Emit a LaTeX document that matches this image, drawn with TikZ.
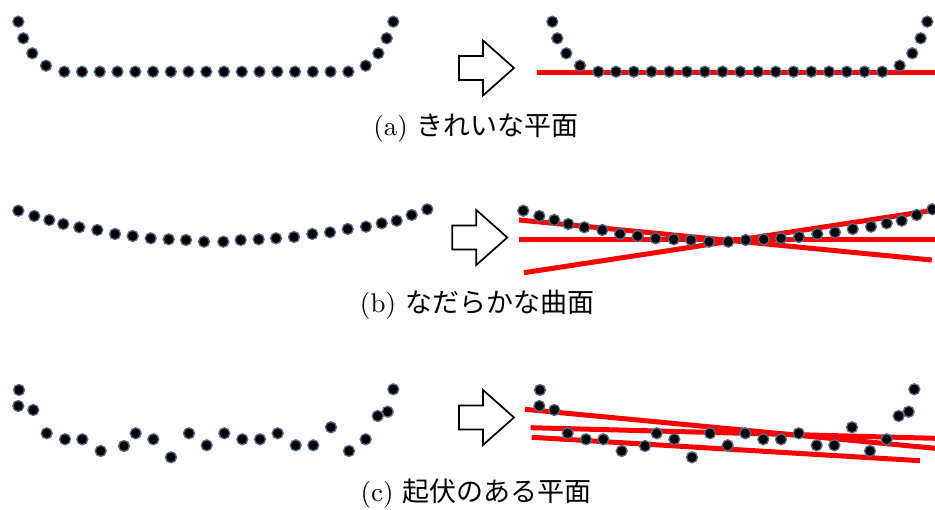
\documentclass[tikz,border=0pt]{standalone}
\usepackage{fontspec}
\newfontfamily\jpfont{Noto Sans CJK JP}
\definecolor{DotEdge}{rgb}{0.35,0.42,0.55}
\definecolor{FitRed}{rgb}{1,0,0}

% outline arrow: left end x, middle y
\newcommand{\hollowarrow}[2]{%
  \draw[hollow] (#1,#2-12) -- ++(24,0) -- ++(0,-15.5) -- (#1+55,#2)
    -- (#1+24,#2+27.5) -- ++(0,-15.5) -- (#1,#2+12) -- cycle;}

% sample points, one list per surface
\def\flatpts{18.3/21.7, 23.3/38.3, 32.3/53.3, 46/65.7,
  64.3/71.7, 82/71.7, 99.8/71.7, 117.5/71.7, 135.3/71.7, 153/71.7,
  170.8/71.7, 188.5/71.7, 206.3/71.7, 224/71.7, 241.8/71.7, 259.5/71.7,
  277.3/71.7, 295/71.7, 312.8/71.7, 330.5/71.7, 348.3/71.7,
  365.7/65.7, 378.3/53.3, 386.7/38.3, 393.3/21.7}
\def\smoothpts{18.3/210.7, 34.3/216, 49.3/220, 63.3/224, 79.3/227.3,
  97.3/230, 115/234, 132.7/236, 150.7/238.3, 168.7/239.3, 186/240,
  204/241.7, 223.3/241.7, 240.7/240, 258.7/239.3, 276/238.3, 294/237,
  312.3/234, 330/232.3, 347.7/229, 366/226.7, 381.7/223.3, 396.7/220.7,
  411.7/215, 427.3/209.3}
\def\roughpts{19/390, 18.3/406, 33.3/410, 46.7/433.3, 65/439.3,
  82.3/439.3, 100.7/451, 124/446, 135.7/433.3, 153.3/439.3, 171/457.3,
  189/433.3, 206.7/445.3, 224.3/433.3, 242.3/439.3, 260/439.3,
  277.7/433.3, 295.7/445.3, 313.3/445.3, 331/427.3, 349/451,
  365.7/439.3, 377.7/416, 387.7/411.7, 393.3/389.3}

\begin{document}
\begin{tikzpicture}[x=1pt,y=-1pt]
  \tikzstyle{caption}=[font=\normalsize, scale=2.7, transform shape]
  \tikzstyle{dot}=[circle, fill=black, draw=DotEdge, line width=1.3pt,
    inner sep=0pt, minimum size=11pt]
  \tikzstyle{fitline}=[draw=FitRed, line width=5pt]
  \tikzstyle{hollow}=[draw=black, line width=1.7pt, fill=white]
  \useasboundingbox (0,0) rectangle (935,510);

  % (a)
  \foreach \x/\y in \flatpts {\node[dot] at (\x,\y) {};}
  \hollowarrow{459}{68}
  \draw[fitline] (536.7,72.3) -- (935,72.3);
  \begin{scope}[xshift=534]
    \foreach \x/\y in \flatpts {\node[dot] at (\x,\y) {};}
  \end{scope}
  \node[caption] (capa) at (476,128) {(a) {\jpfont きれいな平面}};

  % (b)
  \foreach \x/\y in \smoothpts {\node[dot] at (\x,\y) {};}
  \hollowarrow{452.3}{237.5}
  \draw[fitline] (519,239.3) -- (935,239.3);
  \draw[fitline] (519,220) -- (931.7,260);
  \draw[fitline] (524,272.7) -- (935,210);
  \begin{scope}[xshift=505]
    \foreach \x/\y in \smoothpts {\node[dot] at (\x,\y) {};}
  \end{scope}
  \node[caption] (capb) at (477,305) {(b) {\jpfont なだらかな曲面}};

  % (c)
  \foreach \x/\y in \roughpts {\node[dot] at (\x,\y) {};}
  \hollowarrow{459}{417.5}
  \draw[fitline] (525,409.3) -- (935,448.3);
  \draw[fitline] (530.7,427.7) -- (935,438.3);
  \draw[fitline] (531.7,437.3) -- (920,460.7);
  \begin{scope}[xshift=521]
    \foreach \x/\y in \roughpts {\node[dot] at (\x,\y) {};}
  \end{scope}
  \node[caption] (capc) at (476,494) {(c) {\jpfont 起伏のある平面}};
\end{tikzpicture}
\end{document}
